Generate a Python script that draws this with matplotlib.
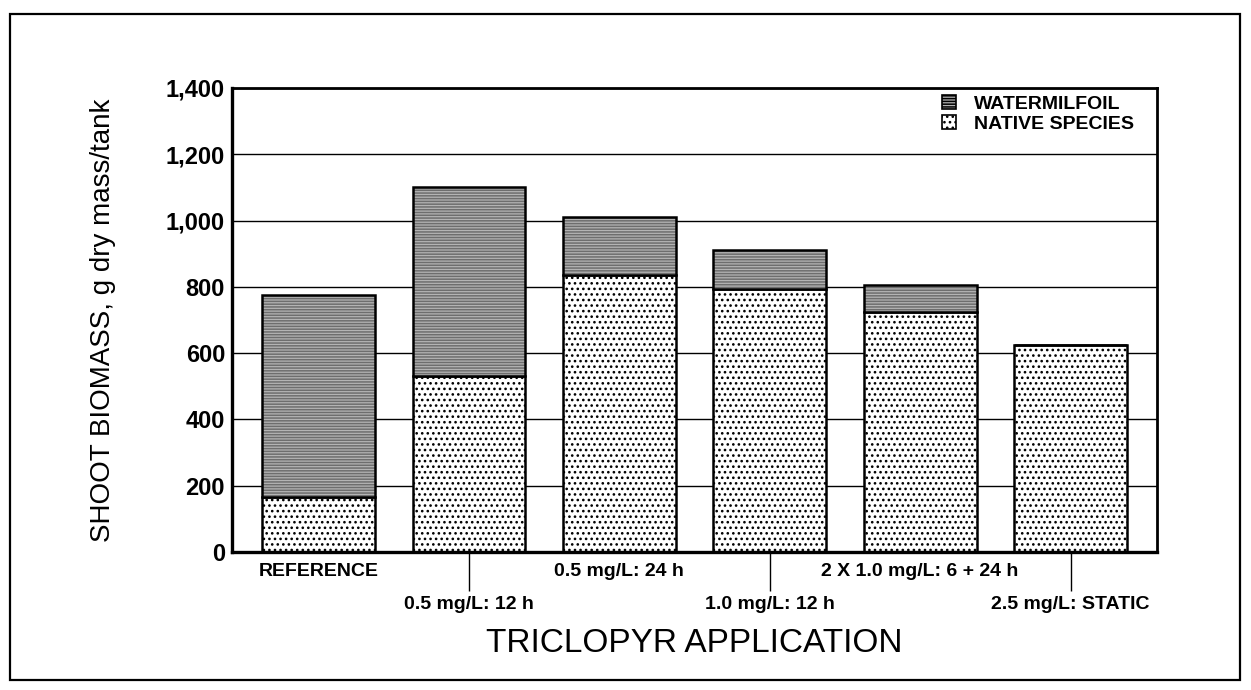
import matplotlib
matplotlib.use('Agg')
import matplotlib.pyplot as plt
from matplotlib.patches import Rectangle, Patch
from matplotlib.ticker import FuncFormatter

plt.rcParams['font.family'] = ['Liberation Sans', 'DejaVu Sans']
plt.rcParams['hatch.linewidth'] = 1.1

# Data (g dry mass/tank)
treatments = ['REFERENCE', '0.5 mg/L: 12 h', '0.5 mg/L: 24 h',
              '1.0 mg/L: 12 h', '2 X 1.0 mg/L: 6 + 24 h', '2.5 mg/L: STATIC']
native_species = [165, 530, 835, 795, 725, 625]
watermilfoil = [610, 570, 175, 115, 80, 0]
y_ticks = [0, 200, 400, 600, 800, 1000, 1200, 1400]

milfoil_face = '#b4b4b4'

fig = plt.figure(figsize=(12.51, 6.90), dpi=100)
ax = fig.add_axes([0.1855, 0.2, 0.7394, 0.6725])

x = list(range(len(treatments)))
width = 0.75

# Native species (dotted) at the bottom
ax.bar(x, native_species, width, color='white', edgecolor='black',
       hatch='...', linewidth=1.8, zorder=2)
# Watermilfoil on top: grey stipple then a black outline
ax.bar(x, watermilfoil, width, bottom=native_species, color=milfoil_face,
       edgecolor='#6e6e6e', hatch='------', linewidth=0, zorder=2)
ax.bar(x, watermilfoil, width, bottom=native_species, fill=False,
       edgecolor='black', linewidth=1.8, zorder=3)

ax.set_xlim(-0.575, 5.575)
ax.set_ylim(0, 1400)
ax.set_yticks(y_ticks)
ax.yaxis.set_major_formatter(FuncFormatter(lambda v, p: f'{int(v):,}'))
ax.tick_params(axis='y', length=0, pad=5, labelsize=17)
for lab in ax.get_yticklabels():
    lab.set_fontweight('bold')

ax.yaxis.grid(True, color='black', linewidth=1.0)
ax.set_axisbelow(True)

# staggered category labels: even ones close, odd ones lower with long ticks
ax.set_xticks(x[0::2])
ax.set_xticklabels(treatments[0::2], fontweight='bold')
ax.set_xticks(x[1::2], minor=True)
ax.set_xticklabels(treatments[1::2], minor=True, fontweight='bold')
ax.tick_params(axis='x', which='major', length=0, pad=8, labelsize=14)
ax.tick_params(axis='x', which='minor', length=28, width=1.0,
               direction='out', pad=4, labelsize=14)

for side in ['left', 'bottom']:
    ax.spines[side].set_linewidth(2.4)
for side in ['top', 'right']:
    ax.spines[side].set_linewidth(2.0)

ax.text(-0.1395, 0.5, 'SHOOT BIOMASS, g dry mass/tank', transform=ax.transAxes,
        rotation=90, ha='center', va='center', fontsize=20)
ax.text(0.5, -0.197, 'TRICLOPYR APPLICATION', transform=ax.transAxes,
        ha='center', va='center', fontsize=24)

handles = [Patch(facecolor=milfoil_face, edgecolor='black', hatch='------', linewidth=1.2),
           Patch(facecolor='white', edgecolor='black', hatch='...', linewidth=1.2)]
ax.legend(handles, ['WATERMILFOIL', 'NATIVE SPECIES'], loc='upper left',
          bbox_to_anchor=(0.768, 0.985), frameon=False,
          prop={'size': 14, 'weight': 'bold'},
          handlelength=0.7, handleheight=0.7, handletextpad=0.9,
          labelspacing=0.15, borderpad=0, borderaxespad=0)

# outer frame around the whole figure
fig.patches.append(Rectangle((0.008, 0.0145), 0.983, 0.965, transform=fig.transFigure,
                             fill=False, edgecolor='black', linewidth=1.6))

fig.savefig('out.png', dpi=100)
